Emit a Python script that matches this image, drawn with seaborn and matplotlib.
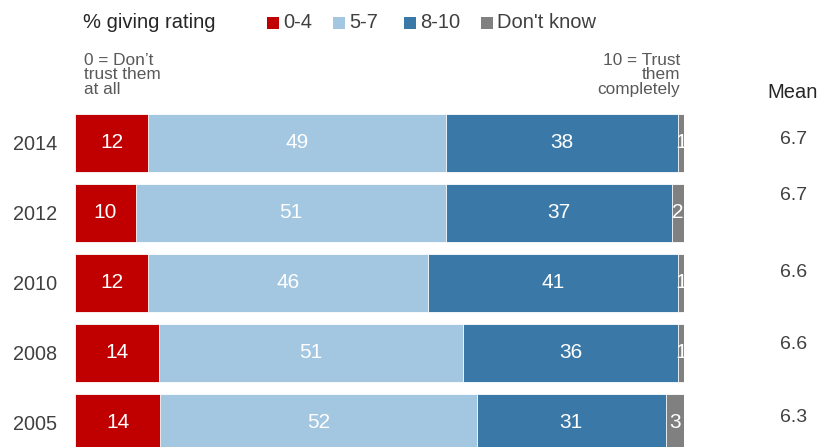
import matplotlib
matplotlib.use("Agg")
import matplotlib.pyplot as plt
from matplotlib.patches import Rectangle
import seaborn as sns
import pandas as pd

# Survey results: share of respondents giving each trust rating
years = ["2014", "2012", "2010", "2008", "2005"]
rating_0_4 = [12, 10, 12, 14, 14]
rating_5_7 = [49, 51, 46, 51, 52]
rating_8_10 = [38, 37, 41, 36, 31]
dont_know = [1, 2, 1, 1, 3]
mean_score = [6.7, 6.7, 6.6, 6.6, 6.3]

groups = ["0-4", "5-7", "8-10", "Don't know"]
colors = ["#C00000", "#A3C6E1", "#3A78A7", "#808080"]

sns.set_theme(style="white")
plt.rcParams["font.family"] = ["Liberation Sans", "DejaVu Sans"]

W, H = 821, 447
fig = plt.figure(figsize=(W / 100, H / 100), dpi=100)
ax = fig.add_axes([75 / W, 0, 609 / W, (H - 114) / H])

df = pd.DataFrame({
    "year": years,
    "0-4": rating_0_4,
    "5-7": rating_5_7,
    "8-10": rating_8_10,
    "Don't know": dont_know,
})
# 100% stacked: scale each row by its own total
totals = df[groups].sum(axis=1)
shares = df[groups].div(totals, axis=0) * 100
cum = shares.cumsum(axis=1)
cum["year"] = years

# draw cumulative extents from the widest down so each segment shows
for g, c in reversed(list(zip(groups, colors))):
    sns.barplot(data=cum, y="year", x=g, order=years, orient="h",
                color=c, saturation=1, width=0.83, edgecolor="white",
                linewidth=0.6, ax=ax)

# white value labels centred on each segment
for i in range(len(years)):
    left = 0.0
    for g in groups:
        w = shares.loc[i, g]
        ax.text(left + w / 2, i, str(df.loc[i, g]), ha="center",
                va="center", color="white", fontsize=15)
        left += w

ax.set_xlim(0, 100)
ax.set_ylim(4.343, -0.414)
ax.set_xlabel("")
ax.set_ylabel("")
ax.set_xticks([])
ax.tick_params(axis="y", length=0, pad=13, labelsize=14.3, labelcolor="#404040")
for s in ax.spines.values():
    s.set_visible(False)

# mean column
mean_nudge = [3, 17, 10, 8, 5]
ax.text(793 / W, 1 - 92 / H, "Mean", transform=fig.transFigure,
        ha="center", va="center", fontsize=14.5, color="#262626")
for i, m in enumerate(mean_score):
    ax.annotate(f"{m:.1f}", xy=(794 / W, i),
                xycoords=("figure fraction", "data"),
                xytext=(0, mean_nudge[i] * 0.72), textcoords="offset points",
                ha="center", va="center", fontsize=14, color="#404040",
                annotation_clip=False)

# header and legend
fig.text(83 / W, 1 - 23 / H, "% giving rating", ha="left", va="center",
         fontsize=14.5, color="#262626")
legend_x = [267, 333, 404, 481]
for x, g, c in zip(legend_x, groups, colors):
    fig.add_artist(Rectangle((x / W, 1 - 29 / H), 12 / W, 12 / H,
                             transform=fig.transFigure, color=c, lw=0))
    fig.text((x + 16) / W, 1 - 23 / H, g, ha="left", va="center",
             fontsize=14.5, color="#404040")

# scale end notes
fig.text(84 / W, 1 - 53 / H, "0 = Don\u2019t\ntrust them\nat all", ha="left",
         va="top", fontsize=12.4, color="#595959", linespacing=0.95)
fig.text(680 / W, 1 - 53 / H, "10 = Trust\nthem\ncompletely", ha="right",
         va="top", fontsize=12.4, color="#595959", linespacing=0.95,
         multialignment="right")

fig.savefig("out.png", dpi=100)
